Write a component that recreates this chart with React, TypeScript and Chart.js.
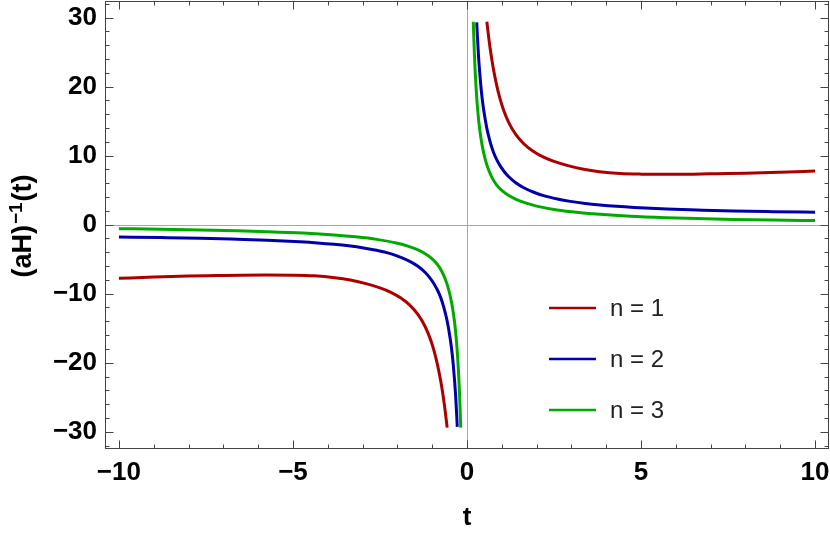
import React, { useEffect, useRef } from "react";
import { Chart, registerables } from "chart.js";

Chart.register(...registerables);

// ---- data ----
const seriesLabels = ["n = 1", "n = 2", "n = 3"];
const seriesColors = ["#aa0000", "#0000aa", "#00aa00"];

const tPos1 = [0.57, 0.62, 0.68, 0.75, 0.85, 0.95, 1.05, 1.2, 1.4, 1.63, 1.9, 2.2, 2.5, 2.9, 3.35, 3.8, 4.4, 5.0, 5.74, 6.5, 7.2, 8.0, 9.0, 10];
const yPos1 = [29.4, 27.26, 25.0, 22.8, 20.24, 18.21, 16.62, 14.79, 13.07, 11.72, 10.63, 9.77, 9.16, 8.55, 8.03, 7.68, 7.41, 7.32, 7.3, 7.32, 7.38, 7.45, 7.6, 7.78];
const tNeg1 = [-10, -9.0, -8.0, -7.2, -6.5, -5.74, -5.0, -4.4, -3.8, -3.35, -2.9, -2.5, -2.2, -1.9, -1.63, -1.4, -1.2, -1.05, -0.95, -0.85, -0.75, -0.68, -0.62, -0.57];
const yNeg1 = [-7.78, -7.6, -7.45, -7.38, -7.32, -7.3, -7.32, -7.41, -7.68, -8.03, -8.55, -9.16, -9.77, -10.63, -11.72, -13.07, -14.79, -16.62, -18.21, -20.24, -22.8, -25.0, -27.26, -29.4];

const tPos2 = [0.28, 0.30, 0.33, 0.36, 0.40, 0.44, 0.48, 0.57, 0.67, 0.76, 0.85, 0.95, 1.05, 1.2, 1.4, 1.63, 1.9, 2.2, 2.6, 2.97, 3.4, 3.82, 4.3, 4.8, 5.74, 6.6, 7.65, 8.8, 10];
const yPos2 = [29.3, 27.2, 24.5, 22.4, 20.0, 18.1, 16.6, 13.95, 11.9, 10.5, 9.47, 8.55, 7.81, 6.93, 6.07, 5.35, 4.73, 4.2, 3.71, 3.37, 3.07, 2.85, 2.65, 2.49, 2.26, 2.12, 1.97, 1.875, 1.8];
const tNeg2 = [-10, -8.8, -7.65, -6.6, -5.74, -4.8, -4.3, -3.82, -3.4, -2.97, -2.6, -2.2, -1.9, -1.63, -1.4, -1.2, -1.05, -0.95, -0.85, -0.76, -0.67, -0.57, -0.48, -0.44, -0.40, -0.36, -0.33, -0.30, -0.28];
const yNeg2 = [-1.8, -1.875, -1.97, -2.12, -2.26, -2.49, -2.65, -2.85, -3.07, -3.37, -3.71, -4.2, -4.73, -5.35, -6.07, -6.93, -7.81, -8.55, -9.47, -10.5, -11.9, -13.95, -16.6, -18.1, -20.0, -22.4, -24.5, -27.2, -29.3];

const tPos3 = [0.18, 0.20, 0.215, 0.24, 0.27, 0.31, 0.36, 0.43, 0.52, 0.62, 0.73, 0.86, 1.0, 1.2, 1.44, 1.7, 2.0, 2.59, 3.2, 3.82, 4.7, 5.74, 6.6, 7.65, 8.8, 10];
const yPos3 = [29.4, 26.5, 24.4, 21.7, 19.1, 16.45, 14.0, 11.63, 9.52, 7.94, 6.71, 5.7, 4.95, 4.21, 3.59, 3.11, 2.69, 2.13, 1.76, 1.49, 1.22, 1.01, 0.88, 0.76, 0.66, 0.585];
const tNeg3 = [-10, -8.8, -7.65, -6.6, -5.74, -4.7, -3.82, -3.2, -2.59, -2.0, -1.7, -1.44, -1.2, -1.0, -0.86, -0.73, -0.62, -0.52, -0.43, -0.36, -0.31, -0.27, -0.24, -0.215, -0.20, -0.18];
const yNeg3 = [-0.585, -0.66, -0.76, -0.88, -1.01, -1.22, -1.49, -1.76, -2.13, -2.69, -3.11, -3.59, -4.21, -4.95, -5.7, -6.71, -7.94, -9.52, -11.63, -14.0, -16.45, -19.1, -21.7, -24.4, -26.5, -29.4];

const xTickLabels = [-10, -5, 0, 5, 10];
const yTickLabels = [-30, -20, -10, 0, 10, 20, 30];
const xMinorTicks = [-10, -9, -8, -7, -6, -5, -4, -3, -2, -1, 0, 1, 2, 3, 4, 5, 6, 7, 8, 9, 10];
const yMinorTicks = [-32, -30, -28, -26, -24, -22, -20, -18, -16, -14, -12, -10, -8, -6, -4, -2, 0, 2, 4, 6, 8, 10, 12, 14, 16, 18, 20, 22, 24, 26, 28, 30, 32];

const FONT = "'Liberation Sans', Arial, sans-serif";

function pts(tn: number[], yn: number[], tp: number[], yp: number[]) {
  const out: any[] = [];
  tn.forEach((t, i) => out.push({ x: t, y: yn[i] }));
  out.push({ x: 0, y: null });
  tp.forEach((t, i) => out.push({ x: t, y: yp[i] }));
  return out;
}

const fmt = (v: number) => (v < 0 ? "\u2212" + Math.abs(v) : String(v));

const framePlugin = {
  id: "framePlugin",
  beforeDatasetsDraw(chart: any) {
    const { ctx, chartArea: a, scales } = chart;
    const x0 = Math.round(scales.x.getPixelForValue(0)) + 0.5;
    const y0 = Math.round(scales.y.getPixelForValue(0)) + 0.5;
    ctx.save();
    ctx.strokeStyle = "#a6a6a6";
    ctx.lineWidth = 1;
    ctx.beginPath();
    ctx.moveTo(x0, a.top);
    ctx.lineTo(x0, a.bottom);
    ctx.moveTo(a.left, y0);
    ctx.lineTo(a.right, y0);
    ctx.stroke();
    ctx.restore();
  },
  afterDraw(chart: any) {
    const { ctx, chartArea: a, scales } = chart;
    ctx.save();
    ctx.strokeStyle = "#444";
    ctx.lineWidth = 1;
    const L = Math.round(a.left) + 0.5, R = Math.round(a.right) - 0.5;
    const T = Math.round(a.top) + 0.5, B = Math.round(a.bottom) - 0.5;
    ctx.strokeRect(L, T, R - L, B - T);
    ctx.beginPath();
    xMinorTicks.forEach((v) => {
      const px = Math.round(scales.x.getPixelForValue(v)) + 0.5;
      const len = xTickLabels.includes(v) ? 8 : 4;
      ctx.moveTo(px, B); ctx.lineTo(px, B - len);
      ctx.moveTo(px, T); ctx.lineTo(px, T + len);
    });
    yMinorTicks.forEach((v) => {
      const py = Math.round(scales.y.getPixelForValue(v)) + 0.5;
      const len = yTickLabels.includes(v) ? 8 : 4;
      ctx.moveTo(L, py); ctx.lineTo(L + len, py);
      ctx.moveTo(R, py); ctx.lineTo(R - len, py);
    });
    ctx.stroke();

    // axis titles
    ctx.fillStyle = "#000";
    ctx.font = `bold 26px ${FONT}`;
    ctx.textAlign = "center";
    ctx.textBaseline = "alphabetic";
    ctx.fillText("t", (a.left + a.right) / 2, 525);

    ctx.save();
    ctx.translate(0, 226);
    ctx.rotate(-Math.PI / 2);
    const main = `bold 27px ${FONT}`;
    const sup = `bold 19px ${FONT}`;
    ctx.textAlign = "left";
    ctx.font = main;
    const w1 = ctx.measureText("(aH)").width;
    const w3 = ctx.measureText("(t)").width;
    ctx.font = sup;
    const w2 = ctx.measureText("\u22121").width;
    let x = -(w1 + w2 + w3 + 2) / 2;
    ctx.font = main;
    ctx.fillText("(aH)", x, 31);
    x += w1 + 1;
    ctx.font = sup;
    ctx.fillText("\u22121", x, 22);
    x += w2 + 1;
    ctx.font = main;
    ctx.fillText("(t)", x, 31);
    ctx.restore();

    // legend
    const ly = [308, 359, 410];
    chart.data.datasets.forEach((ds: any, i: number) => {
      ctx.strokeStyle = ds.borderColor;
      ctx.lineWidth = 2.5;
      ctx.beginPath();
      ctx.moveTo(549, ly[i]);
      ctx.lineTo(596, ly[i]);
      ctx.stroke();
      ctx.fillStyle = "#222";
      ctx.font = `24px ${FONT}`;
      ctx.textAlign = "left";
      ctx.fillText(ds.label, 610, ly[i] + 8);
    });
    ctx.restore();
  },
};

export default function App() {
  const ref = useRef<HTMLCanvasElement | null>(null);
  useEffect(() => {
    document.body.style.margin = "0";
    const canvas = ref.current!;
    const series = [
      pts(tNeg1, yNeg1, tPos1, yPos1),
      pts(tNeg2, yNeg2, tPos2, yPos2),
      pts(tNeg3, yNeg3, tPos3, yPos3),
    ];
    const chart = new Chart(canvas, {
      type: "line",
      data: {
        datasets: series.map((d, i) => ({
          label: seriesLabels[i],
          data: d,
          borderColor: seriesColors[i],
          backgroundColor: seriesColors[i],
          borderWidth: 3,
          pointRadius: 0,
          cubicInterpolationMode: "monotone",
          spanGaps: false,
          fill: false,
        })),
      },
      options: {
        animation: false,
        responsive: false,
        layout: { padding: { top: 1, right: 1, left: 0, bottom: 0 } },
        plugins: { legend: { display: false }, tooltip: { enabled: false } },
        scales: {
          x: {
            type: "linear",
            min: -10.4,
            max: 10.4,
            afterBuildTicks: (s: any) => { s.ticks = xTickLabels.map((v) => ({ value: v })); },
            afterFit: (s: any) => { s.height = 84; s.paddingLeft = 0; s.paddingRight = 0; },
            grid: { display: false, drawTicks: false },
            border: { display: false },
            ticks: {
              color: "#000",
              padding: 8,
              maxRotation: 0,
              autoSkip: false,
              font: { family: FONT, size: 26, weight: "bold" },
              callback: (v: any) => fmt(Number(v)),
            },
          },
          y: {
            type: "linear",
            min: -32.5,
            max: 32.4,
            afterBuildTicks: (s: any) => { s.ticks = yTickLabels.map((v) => ({ value: v })); },
            afterFit: (s: any) => { s.width = 105; s.paddingTop = 0; s.paddingBottom = 0; },
            grid: { display: false, drawTicks: false },
            border: { display: false },
            ticks: {
              color: "#000",
              padding: 8,
              autoSkip: false,
              font: { family: FONT, size: 26, weight: "bold" },
              callback: (v: any) => fmt(Number(v)),
            },
          },
        },
      } as any,
      plugins: [framePlugin],
    });
    return () => chart.destroy();
  }, []);
  return (
    <div style={{ width: 830, height: 533 }}>
      <canvas ref={ref} width={830} height={533} style={{ display: "block" }} />
    </div>
  );
}
